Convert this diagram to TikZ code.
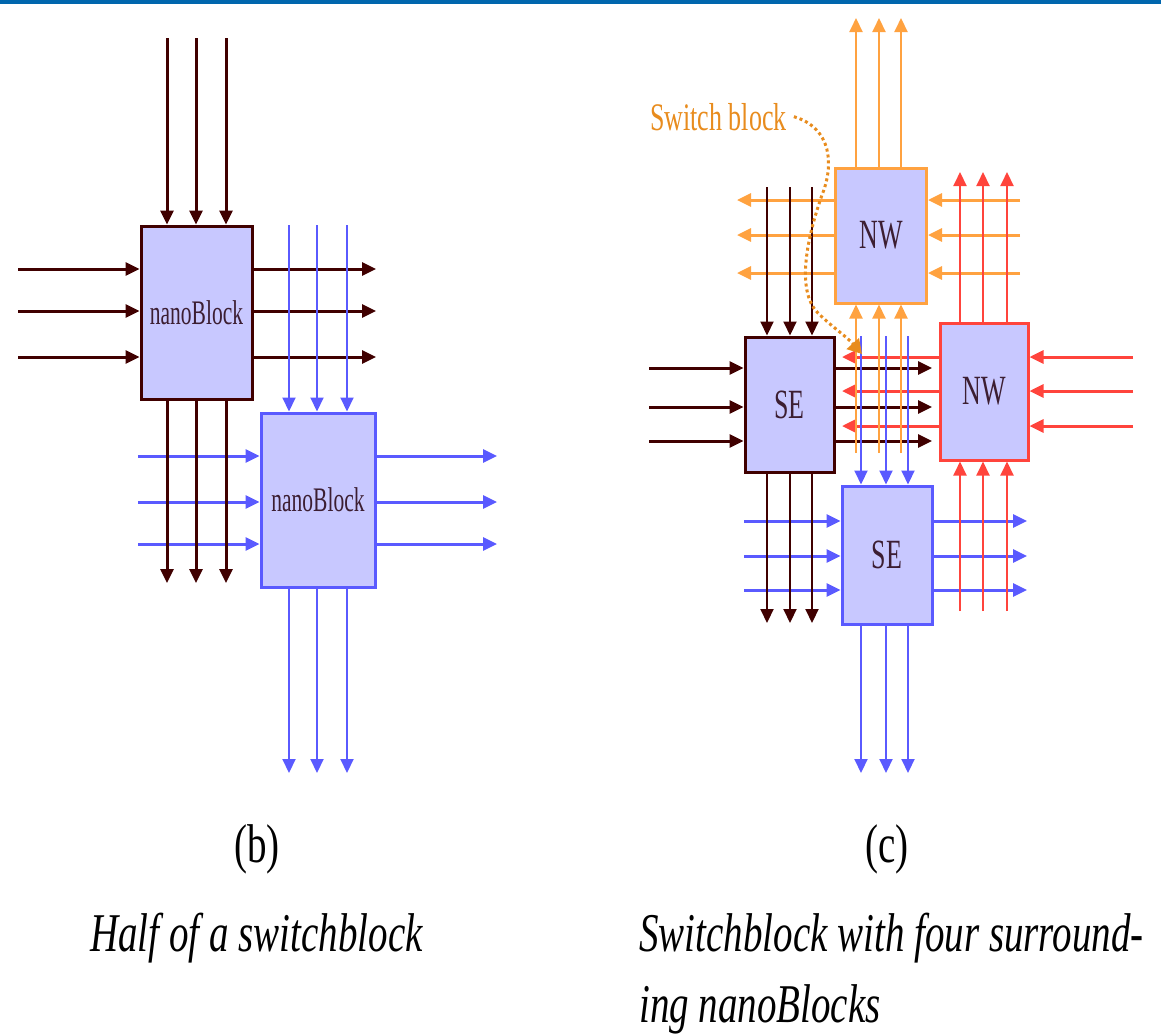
\documentclass[tikz,border=0pt]{standalone}
\usepackage{fontspec}
\setmainfont{Liberation Serif}
\usetikzlibrary{arrows.meta,calc}
\definecolor{mar}{RGB}{64,0,0}
\definecolor{blu}{RGB}{90,90,255}
\definecolor{fillc}{RGB}{200,200,255}
\definecolor{org}{RGB}{255,162,64}
\definecolor{rd}{RGB}{255,68,60}
\definecolor{ann}{RGB}{232,140,30}
\definecolor{topbar}{RGB}{0,102,173}
\definecolor{lbl}{RGB}{60,30,50}
\newcommand\boxlbl[2]{\scalebox{1}[1.6]{\fontsize{#1}{#1}\selectfont #2}}
\newcommand\captxt[1]{\scalebox{1}[1.4]{\fontsize{39}{39}\selectfont #1}}
\tikzset{
  blk/.style={draw, line width=3pt, fill=fillc, inner sep=0pt, text=lbl},
  wtip/.style={-{Triangle[length=14pt,width=13pt]}},
  hw/.style={line width=3pt, wtip},
  vw/.style={line width=2pt, wtip},
  vwt/.style={line width=3pt, wtip},
}
\begin{document}
\begin{tikzpicture}[x=1pt,y=-1pt]
\useasboundingbox (0,0) rectangle (1161,1034);
\fill[topbar] (0,0) rectangle (1161,4);

% ---------- left diagram: boxes ----------
\node[blk, draw=mar, minimum width=111pt, minimum height=173pt] (A) at (196.5,312.5) {\boxlbl{21.5}{nanoBlock}};
\node[blk, draw=blu, minimum width=114pt, minimum height=174pt] (B) at (318,500) {\boxlbl{21.5}{nanoBlock}};

% horizontals
\foreach \y in {269,311,357} {
  \draw[mar, hw] (18,\y) -- (A.west |- 0,\y);
  \draw[mar, hw] (A.east |- 0,\y) -- (376,\y);
}
\foreach \y in {456,502,544} {
  \draw[blu, hw] (138,\y) -- (B.west |- 0,\y);
  \draw[blu, hw] (B.east |- 0,\y) -- (497,\y);
}
% verticals
\foreach \x in {167,196,226} {
  \draw[mar, vwt] (\x,38) -- (\x,0 |- A.north);
  \draw[mar, vwt] (\x,0 |- A.south) -- (\x,583);
}
\foreach \x in {289,317,347} {
  \draw[blu, vw] (\x,225) -- (\x,0 |- B.north);
  \draw[blu, vw] (\x,0 |- B.south) -- (\x,773);
}

% ---------- right diagram: boxes ----------
\node[blk, draw=org, minimum width=91pt, minimum height=135pt] (C) at (881,235.5) {\boxlbl{26}{NW}};
\node[blk, draw=mar, minimum width=89pt, minimum height=135pt] (D) at (789.5,404.5) {\boxlbl{26}{SE}};
\node[blk, draw=rd, minimum width=88pt, minimum height=137pt] (E) at (984,391.5) {\boxlbl{26}{NW}};
\node[blk, draw=blu, minimum width=90pt, minimum height=138pt] (F) at (887,555) {\boxlbl{26}{SE}};

% horizontals
\foreach \y in {200,235,273} {
  \draw[org, hw] (C.west |- 0,\y) -- (737,\y);
  \draw[org, hw] (1020,\y) -- (C.east |- 0,\y);
}
\foreach \y in {368,407,441} {
  \draw[mar, hw] (649,\y) -- (D.west |- 0,\y);
  \draw[mar, hw] (D.east |- 0,\y) -- (932,\y);
}
\foreach \y in {357,391,426} {
  \draw[rd, hw] (1133,\y) -- (E.east |- 0,\y);
  \draw[rd, hw] (E.west |- 0,\y) -- (842,\y);
}
\foreach \y in {521,556,590} {
  \draw[blu, hw] (744,\y) -- (F.west |- 0,\y);
  \draw[blu, hw] (F.east |- 0,\y) -- (1027,\y);
}
% verticals
\foreach \x in {856,879,901} {
  \draw[org, vw] (\x,0 |- C.north) -- (\x,18);
  \draw[org, vw] (\x,453) -- (\x,0 |- C.south);
}
\foreach \x in {767,790,812} {
  \draw[mar, vw] (\x,187) -- (\x,0 |- D.north);
  \draw[mar, vw] (\x,0 |- D.south) -- (\x,623);
}
\foreach \x in {960,983,1007} {
  \draw[rd, vw] (\x,0 |- E.north) -- (\x,172);
  \draw[rd, vw] (\x,611) -- (\x,0 |- E.south);
}
\foreach \x in {861,886,908} {
  \draw[blu, vw] (\x,336) -- (\x,0 |- F.north);
  \draw[blu, vw] (\x,0 |- F.south) -- (\x,773);
}

% ---------- switch block annotation ----------
\node[text=ann, anchor=base west, inner sep=0pt] (sw) at (650,130) {\scalebox{1}[1.5]{\fontsize{26}{26}\selectfont Switch block}};
\coordinate (swend) at (862,354);
\draw[ann, line width=3pt, dash pattern=on 3pt off 3pt, -{Triangle[length=14pt,width=16pt]}]
  ($(sw.east)+(7,0)$) .. controls (832,128) and (834,165) .. (822,195)
  .. controls (808,235) and (795,290) .. (818,313)
  .. controls (832,327) and (846,336) .. (swend);

% ---------- captions ----------
\node[anchor=base, inner sep=0pt] (capb) at (257,862) {\captxt{(b)}};
\node[anchor=base, inner sep=0pt] (capc) at (887,862) {\captxt{(c)}};
\node[anchor=base west, inner sep=0pt] (capl) at (90,951) {\captxt{\itshape Half of a switchblock}};
\node[anchor=base west, inner sep=0pt] (capr1) at (639,951) {\captxt{\itshape Switchblock with four surround-}};
\node[anchor=base west, inner sep=0pt] (capr2) at (639,1022) {\captxt{\itshape ing nanoBlocks}};
\end{tikzpicture}
\end{document}
